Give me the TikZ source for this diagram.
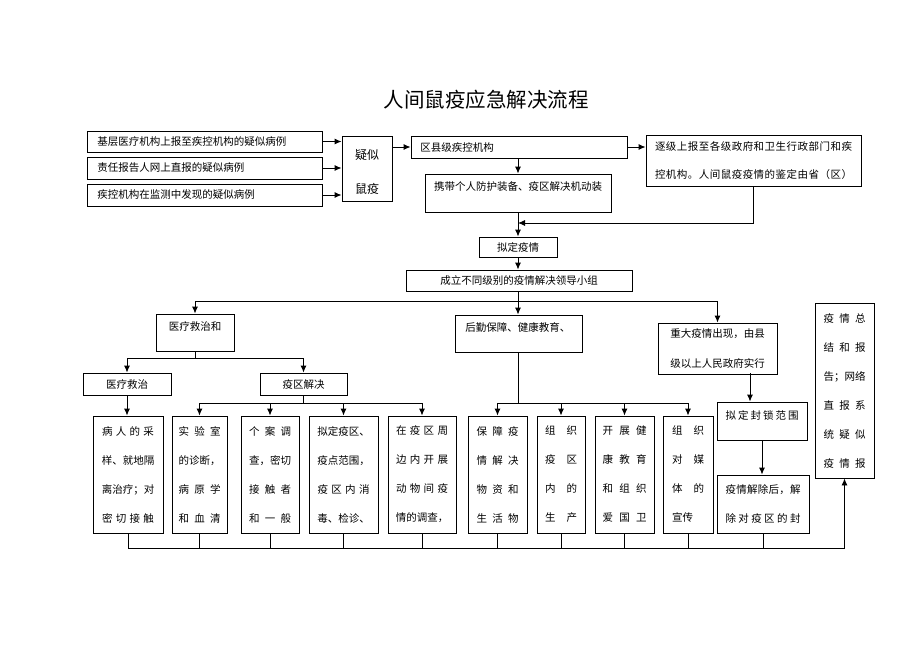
\documentclass[tikz,border=0pt]{standalone}
\usepackage{fontspec}
\setmainfont{Noto Sans CJK SC}
\usetikzlibrary{arrows.meta}
\ExplSyntaxOn
\NewDocumentCommand \spr { m m }
  {
    \hbox_to_wd:nn {#1}
      {
        \tl_set:Nn \l_tmpa_tl {#2}
        \tl_head:N \l_tmpa_tl
        \tl_set:Nx \l_tmpb_tl { \tl_tail:N \l_tmpa_tl }
        \tl_map_inline:Nn \l_tmpb_tl { \hfil ##1 }
      }
  }
\ExplSyntaxOff
\newcommand\fsz{\fontsize{10.5}{29}\selectfont}
\begin{document}
\begin{tikzpicture}[x=1pt,y=-1pt,line width=0.9pt,
  bx/.style={draw, inner sep=0pt, font=\fsz, align=center},
  tx/.style={inner sep=0pt, font=\fsz},
  arr/.style={-{Latex[length=7pt,width=6pt]}}]
\useasboundingbox[fill=white] (0,0) rectangle (920,664);

% title
\node[inner sep=0pt, font=\fontsize{20.5}{24}\selectfont] (title) at (486,100) {人间鼠疫应急解决流程};

% top left inputs
\node[bx, minimum width=235, minimum height=21] (L1) at (204.5,141.5) {};
\node[bx, minimum width=235, minimum height=22] (L2) at (204.5,168) {};
\node[bx, minimum width=235, minimum height=22] (L3) at (204.5,195) {};
\node[tx, anchor=west] (L1t) at (97,141.5) {基层医疗机构上报至疾控机构的疑似病例};
\node[tx, anchor=west] (L2t) at (97,168) {责任报告人网上直报的疑似病例};
\node[tx, anchor=west] (L3t) at (97,195) {疾控机构在监测中发现的疑似病例};

\node[bx, minimum width=50, minimum height=65] (YS) at (367,168.5) {};
\node[inner sep=0pt, align=center, font=\fontsize{12}{34}\selectfont] (YSt) at (367,172) {疑似\\鼠疫};

\node[bx, minimum width=216, minimum height=22] (QX) at (519,147) {};
\node[tx, anchor=west] (QXt) at (420,147) {区县级疾控机构};

\node[bx, minimum width=186, minimum height=38] (XD) at (518,193) {};
\node[tx] (XDt) at (518,187) {携带个人防护装备、疫区解决机动装};

\node[bx, minimum width=215, minimum height=51, font=\fontsize{10.5}{28}\selectfont] (ZJ) at (753.5,160.5)
  {\spr{197pt}{逐级上报至各级政府和卫生行政部门和疾}\\\spr{197pt}{控机构。人间鼠疫疫情的鉴定由省（区）}};

\node[bx, minimum width=78, minimum height=20] (NY) at (518,247) {拟定疫情};
\node[bx, minimum width=226, minimum height=21] (CL) at (519,280.5) {成立不同级别的疫情解决领导小组};

% second level
\node[bx, minimum width=78, minimum height=37] (YL) at (195,332.5) {};
\node[tx] (YLt) at (195,326) {医疗救治和};
\node[bx, minimum width=127, minimum height=37] (HQ) at (518.5,333.5) {};
\node[tx, anchor=west] (HQt) at (465,327) {后勤保障、健康教育、};
\node[bx, minimum width=119, minimum height=51, font=\fontsize{10.5}{30}\selectfont] (ZD) at (717.5,348.5)
  {重大疫情出现，由县\\级以上人民政府实行};

\node[bx, minimum width=88, minimum height=22] (YJ) at (127,384) {医疗救治};
\node[bx, minimum width=87, minimum height=22] (YQ) at (303.5,384) {疫区解决};

% tall boxes
\node[bx, minimum width=70, minimum height=117] (A) at (128,474.5)
  {\spr{52pt}{病人的采}\\样、就地隔\\离治疗；对\\\spr{52pt}{密切接触}};
\node[bx, minimum width=55, minimum height=117] (B) at (199.5,474.5)
  {\spr{42pt}{实验室}\\的诊断，\\\spr{42pt}{病原学}\\\spr{42pt}{和血清}};
\node[bx, minimum width=58, minimum height=117] (C) at (270,474.5)
  {\spr{42pt}{个案调}\\查，密切\\\spr{42pt}{接触者}\\\spr{42pt}{和一般}};
\node[bx, minimum width=69, minimum height=117] (D) at (343.5,474.5)
  {拟定疫区、\\疫点范围，\\\spr{52pt}{疫区内消}\\毒、检诊、};
\node[bx, minimum width=68, minimum height=117] (E) at (422,474.5)
  {\spr{52pt}{在疫区周}\\\spr{52pt}{边内开展}\\\spr{52pt}{动物间疫}\\情的调查，};
\node[bx, minimum width=59, minimum height=117] (F) at (497.5,474.5)
  {\spr{42pt}{保障疫}\\\spr{42pt}{情解决}\\\spr{42pt}{物资和}\\\spr{42pt}{生活物}};
\node[bx, minimum width=48, minimum height=117] (G) at (561,474.5)
  {\spr{32pt}{组织}\\\spr{32pt}{疫区}\\\spr{32pt}{内的}\\\spr{32pt}{生产}};
\node[bx, minimum width=59, minimum height=117] (H) at (624.5,474.5)
  {\spr{44pt}{开展健}\\\spr{44pt}{康教育}\\\spr{44pt}{和组织}\\\spr{44pt}{爱国卫}};
\node[bx, minimum width=50, minimum height=117] (I) at (688,474.5)
  {\spr{32pt}{组织}\\\spr{32pt}{对媒}\\\spr{32pt}{体的}\\\hbox to 32pt{宣传\hfil}};

\node[bx, minimum width=90, minimum height=38] (FS) at (762,421) {};
\node[tx] (FSt) at (762,415) {\spr{73pt}{拟定封锁范围}};
\node[bx, minimum width=92, minimum height=58] (JC) at (763,504)
  {\spr{75pt}{疫情解除后，解}\\\spr{75pt}{除对疫区的封}};

\node[bx, minimum width=59, minimum height=175] (R) at (844.5,390.5)
  {\spr{42pt}{疫情总}\\\spr{42pt}{结和报}\\告；网络\\\spr{42pt}{直报系}\\\spr{42pt}{统疑似}\\\spr{42pt}{疫情报}};

% connectors: top
\draw[arr] (L1.east) -- (L1.east -| YS.west);
\draw[arr] (L2.east) -- (L2.east -| YS.west);
\draw[arr] (L3.east) -- (L3.east -| YS.west);
\draw[arr] (QX.west -| YS.east) -- (QX.west);
\draw[arr] (QX.east) -- (QX.east -| ZJ.west);
\draw[arr] (XD.north |- QX.south) -- (XD.north);
\draw[arr] (XD.south) -- (NY.north);
\coordinate (m1) at (518,223);
\draw[arr] (ZJ.south) |- (m1);
\draw[arr] (NY.south) -- (CL.north -| NY.south);

% distribution level 1
\coordinate (d1) at (518,301);
\draw (CL.south -| d1) -- (d1);
\draw[arr] (d1) -| (YL.north);
\draw[arr] (d1) -- (d1 |- HQ.north);
\draw[arr] (d1) -| (ZD.north);

% medical branch
\coordinate (d2) at (195,358);
\draw (YL.south) -- (d2);
\draw[arr] (d2) -| (YJ.north);
\draw[arr] (d2) -| (YQ.north);
\draw[arr] (YJ.south) -- (YJ.south |- A.north);
\coordinate (d3) at (303.5,403);
\draw (YQ.south) -- (d3);
\foreach \n in {B,C,D,E} \draw[arr] (d3) -| (\n.north);

% logistics branch
\coordinate (d4) at (518.5,403);
\draw (HQ.south) -- (d4);
\foreach \n in {F,G,H,I} \draw[arr] (d4) -| (\n.north);

% major epidemic branch
\coordinate (zdb) at (750,373);
\draw[arr] (zdb) -- (zdb |- FS.north);
\draw[arr] (FS.south) -- (FS.south |- JC.north);

% bottom collector
\coordinate (bb) at (0,548);
\draw[arr] (A.south) -- (A.south |- bb) -| (R.south);
\foreach \n in {B,C,D,E,F,G,H,I,JC} \draw (\n.south) -- (\n.south |- bb);
\end{tikzpicture}
\end{document}
